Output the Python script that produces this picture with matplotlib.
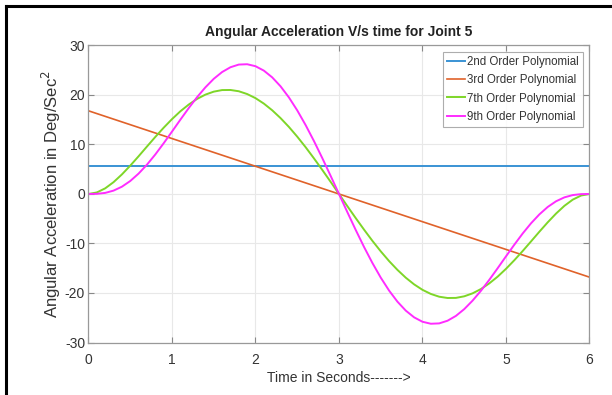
import numpy as np
import matplotlib.pyplot as plt
from matplotlib.lines import Line2D

plt.rcParams['font.family'] = ['Liberation Sans', 'DejaVu Sans']
plt.rcParams['axes.unicode_minus'] = False

# time grid (s) for the smooth profiles
t = np.linspace(0, 6, 61)

# 2nd and 3rd order: straight lines
t_lin = [0, 6]
acc_2nd = [5.6, 5.6]
acc_3rd = [16.8, -16.8]

# 7th order (deg/s^2), read at 0.1 s steps
acc_7th = [0.00, 0.31, 1.14, 2.39, 3.95, 5.72, 7.62, 9.58, 11.52, 13.38,
           15.12, 16.70, 18.06, 19.20, 20.07, 20.67, 20.99, 21.01, 20.75, 20.19,
           19.36, 18.26, 16.91, 15.33, 13.55, 11.58, 9.46, 7.20, 4.86, 2.45,
           0.00,
           -2.45, -4.86, -7.20, -9.46, -11.58, -13.55, -15.33, -16.91, -18.26, -19.36,
           -20.19, -20.75, -21.01, -20.99, -20.67, -20.07, -19.20, -18.06, -16.70, -15.12,
           -13.38, -11.52, -9.58, -7.62, -5.72, -3.95, -2.39, -1.14, -0.31, 0.00]

# 9th order (deg/s^2), read at 0.1 s steps
acc_9th = [0.00, 0.03, 0.22, 0.68, 1.47, 2.62, 4.12, 5.92, 7.98, 10.24,
           12.60, 15.00, 17.34, 19.55, 21.54, 23.26, 24.63, 25.60, 26.14, 26.21,
           25.81, 24.92, 23.56, 21.75, 19.51, 16.89, 13.93, 10.70, 7.25, 3.66,
           0.00,
           -3.66, -7.25, -10.70, -13.93, -16.89, -19.51, -21.75, -23.56, -24.92, -25.81,
           -26.21, -26.14, -25.60, -24.63, -23.26, -21.54, -19.55, -17.34, -15.00, -12.60,
           -10.24, -7.98, -5.92, -4.12, -2.62, -1.47, -0.68, -0.22, -0.03, 0.00]

labels = ["2nd Order Polynomial", "3rd Order Polynomial",
          "7th Order Polynomial", "9th Order Polynomial"]
colors = ["#3a93d4", "#e0622a", "#7ed628", "#ff2cff"]

fig = plt.figure(figsize=(6.12, 3.95), dpi=100)
ax = fig.add_axes([0.1446, 0.1329, 0.8186, 0.752])

ax.plot(t_lin, acc_2nd, color=colors[0], lw=1.4, label=labels[0])
ax.plot(t_lin, acc_3rd, color=colors[1], lw=1.2, label=labels[1])
ax.plot(t, acc_7th, color=colors[2], lw=1.4, label=labels[2])
ax.plot(t, acc_9th, color=colors[3], lw=1.4, label=labels[3])

ax.set_xlim(0, 6)
ax.set_ylim(-30, 30)
ax.set_xticks(range(0, 7))
ax.set_yticks(range(-30, 31, 10))
ax.grid(True, color="#e8e8e8", lw=0.8)
ax.set_axisbelow(True)
ax.tick_params(direction="in", top=True, right=True, length=4, width=0.8,
               color="#888888", labelsize=10, labelcolor="#333333", pad=2.5)
ax.tick_params(axis="x", pad=7.5)
for s in ax.spines.values():
    s.set_color("#999999")
    s.set_linewidth(0.9)

ax.set_title("Angular Acceleration V/s time for Joint 5", fontsize=10,
             fontweight="bold", color="#222222", pad=7)
ax.set_xlabel("Time in Seconds------->", fontsize=10, color="#333333", labelpad=3)
ax.set_ylabel("Angular Acceleration in Deg/Sec$^2$", fontsize=12, color="#333333")
ax.yaxis.set_label_coords(-0.050, 0.5)

leg = ax.legend(loc="upper right", fontsize=8.3, frameon=True, fancybox=False,
                handlelength=1.6, handletextpad=0.2, borderpad=0.35,
                labelspacing=0.55, borderaxespad=0.55)
leg.get_frame().set_edgecolor("#999999")
leg.get_frame().set_linewidth(0.8)
for txt in leg.get_texts():
    txt.set_color("#333333")

# page border from the screenshot
fig.add_artist(Line2D([0.010, 0.010], [0, 0.984], color="black", lw=2.2,
                      transform=fig.transFigure))
fig.add_artist(Line2D([0.010, 1.0], [0.984, 0.984], color="black", lw=2.2,
                      transform=fig.transFigure))

fig.savefig("out.png", dpi=100)
